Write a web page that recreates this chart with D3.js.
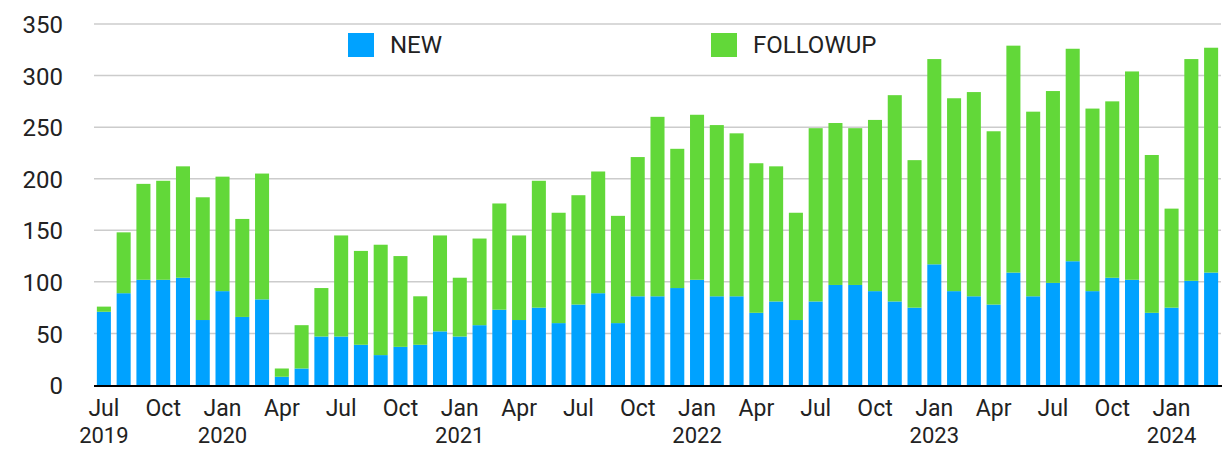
<!DOCTYPE html>
<html>
<head>
<meta charset="utf-8">
<script src="https://cdn.jsdelivr.net/npm/d3@7"></script>
<style>
  html, body { margin: 0; padding: 0; background: #fff; }
  svg { display: block; font-family: Roboto, "Noto Sans", sans-serif; }
</style>
</head>
<body>
<svg id="chart" width="1231" height="449"></svg>
<script>
const months = [
  "2019-07","2019-08","2019-09","2019-10","2019-11","2019-12",
  "2020-01","2020-02","2020-03","2020-04","2020-05","2020-06",
  "2020-07","2020-08","2020-09","2020-10","2020-11","2020-12",
  "2021-01","2021-02","2021-03","2021-04","2021-05","2021-06",
  "2021-07","2021-08","2021-09","2021-10","2021-11","2021-12",
  "2022-01","2022-02","2022-03","2022-04","2022-05","2022-06",
  "2022-07","2022-08","2022-09","2022-10","2022-11","2022-12",
  "2023-01","2023-02","2023-03","2023-04","2023-05","2023-06",
  "2023-07","2023-08","2023-09","2023-10","2023-11","2023-12",
  "2024-01","2024-02","2024-03"
];
const newVals = [
  71, 89, 102, 102, 104, 63,
  91, 66, 83, 8, 16, 47,
  47, 39, 29, 37, 39, 52,
  47, 58, 73, 63, 75, 60,
  78, 89, 60, 86, 86, 94,
  102, 86, 86, 70, 81, 63,
  81, 97, 97, 91, 81, 75,
  117, 91, 86, 78, 109, 86,
  99, 120, 91, 104, 102, 70,
  75, 101, 109
];
const followupVals = [
  5, 59, 93, 96, 108, 119,
  111, 95, 122, 8, 42, 47,
  98, 91, 107, 88, 47, 93,
  57, 84, 103, 82, 123, 107,
  106, 118, 104, 135, 174, 135,
  160, 166, 158, 145, 131, 104,
  168, 157, 152, 166, 200, 143,
  199, 187, 198, 168, 220, 179,
  186, 206, 177, 171, 202, 153,
  96, 215, 218
];
const seriesNames = ["NEW", "FOLLOWUP"];
const seriesColors = ["#00A2FF", "#62D839"];
const yTicks = [0, 50, 100, 150, 200, 250, 300, 350];
const monthAbbr = ["Jan","Feb","Mar","Apr","May","Jun","Jul","Aug","Sep","Oct","Nov","Dec"];

(function () {
const svg = d3.select("#chart");
const pLeft = 94, pRight = 1221, pTop = 24, pBottom = 385;

const rows = months.map((m, i) => ({ month: m, NEW: newVals[i], FOLLOWUP: followupVals[i] }));

const x = d3.scaleBand().domain(months).range([pLeft, pRight]).paddingInner(0.29).paddingOuter(0.145);
const y = d3.scaleLinear().domain([0, 350]).range([pBottom, pTop]);

// gridlines
svg.append("g").selectAll("line")
  .data(yTicks.filter(t => t > 0))
  .join("line")
  .attr("x1", pLeft).attr("x2", pRight)
  .attr("y1", d => y(d)).attr("y2", d => y(d))
  .attr("stroke", "#cccccc").attr("stroke-width", 1.5);

// y labels
const yAxis = d3.axisLeft(y).tickValues(yTicks).tickSize(0).tickPadding(0);
const yg = svg.append("g").attr("transform", `translate(${63},0)`).call(yAxis);
yg.select(".domain").remove();
yg.selectAll("text").attr("font-size", 24).attr("fill", "#222").attr("font-family", "Roboto").attr("dy", "0.36em");

// bars
const stacked = d3.stack().keys(seriesNames)(rows);
svg.append("g").selectAll("g")
  .data(stacked)
  .join("g")
  .attr("fill", (d, i) => seriesColors[i])
  .selectAll("rect")
  .data(d => d)
  .join("rect")
  .attr("x", d => x(d.data.month))
  .attr("width", x.bandwidth())
  .attr("y", d => y(d[1]))
  .attr("height", d => y(d[0]) - y(d[1]));

// baseline axis
svg.append("line")
  .attr("x1", pLeft).attr("x2", pRight + 1)
  .attr("y1", y(0) + 1).attr("y2", y(0) + 1)
  .attr("stroke", "#000").attr("stroke-width", 2);

// x axis labels
const tickMonths = months.filter(m => [1, 4, 7, 10].includes(+m.slice(5)));
const xAxis = d3.axisBottom(x).tickValues(tickMonths).tickSize(0).tickPadding(0)
  .tickFormat(m => monthAbbr[+m.slice(5) - 1]);
const xg = svg.append("g").attr("transform", `translate(0,${pBottom})`).call(xAxis);
xg.select(".domain").remove();
xg.selectAll("text").attr("font-size", 23).attr("fill", "#222").attr("font-family", "Roboto")
  .attr("dy", null).attr("y", 31);

// year labels
const yearMonths = months.filter((m, i) => i === 0 || +m.slice(5) === 1);
svg.append("g").selectAll("text")
  .data(yearMonths)
  .join("text")
  .attr("x", m => x(m) + x.bandwidth() / 2)
  .attr("y", 443)
  .attr("text-anchor", "middle")
  .attr("font-size", 22).attr("fill", "#222").attr("font-family", "Roboto")
  .text(m => m.slice(0, 4));

// legend
const legendX = [348, 711];
const lg = svg.append("g").selectAll("g")
  .data(seriesNames)
  .join("g")
  .attr("transform", (d, i) => `translate(${legendX[i]},33)`);
lg.append("rect").attr("width", 26).attr("height", 24).attr("fill", (d, i) => seriesColors[i]);
lg.append("text").attr("x", 42).attr("y", 20)
  .attr("font-size", 24).attr("fill", "#222").attr("font-family", "Roboto")
  .text(d => d);
})();
</script>
</body>
</html>
